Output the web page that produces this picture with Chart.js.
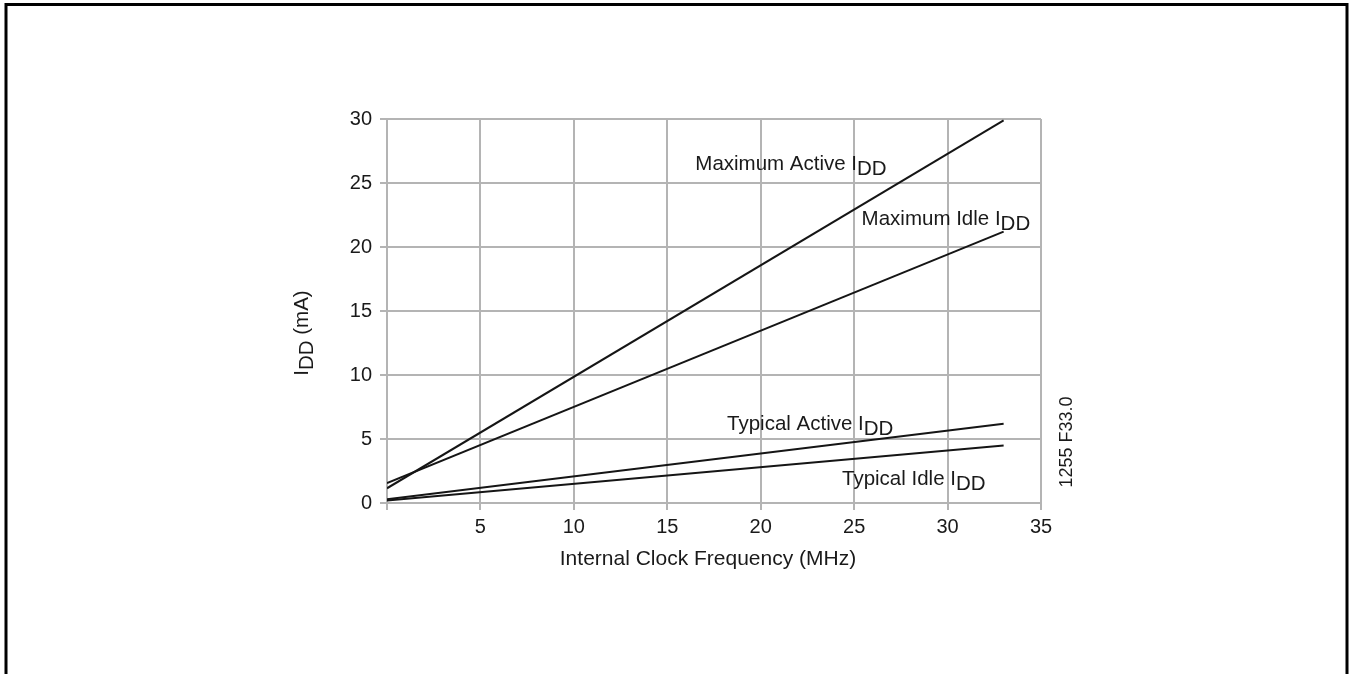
<!DOCTYPE html>
<html>
<head>
<meta charset="utf-8">
<script src="https://cdn.jsdelivr.net/npm/chart.js@4/dist/chart.umd.min.js"></script>
<style>
  html, body { margin: 0; padding: 0; background: #fff; }
  #wrap { width: 1350px; height: 674px; }
</style>
</head>
<body>
<div id="wrap"><canvas id="myChart" width="1350" height="674"></canvas></div>
<script>
"use strict";

// DATA
const freqs = [0, 33];
const maxActive = [1.15, 29.9];
const maxIdle = [1.55, 21.2];
const typActive = [0.3, 6.2];
const typIdle = [0.2, 4.5];
const xTicks = [0, 5, 10, 15, 20, 25, 30, 35];
const yTicks = [0, 5, 10, 15, 20, 25, 30];

// curve labels: [main text, subscript, x (MHz), y (mA) of baseline-left]
const curveLabels = [
  ["Maximum Active I", "DD", 16.5, 26.0],
  ["Maximum Idle I", "DD", 25.4, 21.7],
  ["Typical Active I", "DD", 18.2, 5.7],
  ["Typical Idle I", "DD", 24.35, 1.4],
];

const FONT = "'Liberation Sans', Arial, Helvetica, sans-serif";
const toPts = (ys) => freqs.map((f, i) => ({ x: f, y: ys[i] }));

const lineSet = (ys) => ({
  data: toPts(ys),
  showLine: true,
  borderColor: "#151515",
  borderWidth: 2,
  pointRadius: 0,
  fill: false,
});

// draws frame, titles and curve labels
const decor = {
  id: "decor",
  afterDraw(chart) {
    const c = chart.ctx;
    const xs = chart.scales.x;
    const ys = chart.scales.y;
    c.save();

    // outer frame (no bottom edge)
    c.strokeStyle = "#000";
    c.lineWidth = 3;
    c.beginPath();
    c.moveTo(6, 674);
    c.lineTo(6, 4.5);
    c.lineTo(1347, 4.5);
    c.lineTo(1347, 674);
    c.stroke();

    c.fillStyle = "#1a1a1a";
    c.textBaseline = "alphabetic";

    const subText = (txt, sub, x, y) => {
      c.font = "20.5px " + FONT;
      c.textAlign = "left";
      c.fillText(txt, x, y);
      const w = c.measureText(txt).width;
      c.fillText(sub, x + w, y + 5);
    };

    curveLabels.forEach(([t, s, fx, fy]) => {
      subText(t, s, xs.getPixelForValue(fx), ys.getPixelForValue(fy));
    });

    // x title
    c.font = "21px " + FONT;
    c.textAlign = "center";
    c.fillText("Internal Clock Frequency (MHz)", 708, 565);

    // y title
    c.save();
    c.translate(308, 333);
    c.rotate(-Math.PI / 2);
    c.font = "20.5px " + FONT;
    const w1 = c.measureText("I").width;
    const w2 = c.measureText("DD").width;
    const w3 = c.measureText(" (mA)").width;
    let x0 = -(w1 + w2 + w3) / 2;
    c.textAlign = "left";
    c.fillText("I", x0, 0);
    c.fillText("DD", x0 + w1, 5);
    c.fillText(" (mA)", x0 + w1 + w2, 0);
    c.restore();

    // figure id
    c.save();
    c.translate(1072, 442);
    c.rotate(-Math.PI / 2);
    c.font = "18px " + FONT;
    c.textAlign = "center";
    c.fillText("1255 F33.0", 0, 0);
    c.restore();

    c.restore();
  },
};

const gridOpts = {
  color: "#b4b4b4",
  lineWidth: 2,
  tickLength: 7,
  drawTicks: true,
};

new Chart(document.getElementById("myChart"), {
  type: "scatter",
  data: {
    datasets: [lineSet(maxActive), lineSet(maxIdle), lineSet(typActive), lineSet(typIdle)],
  },
  options: {
    responsive: false,
    animation: false,
    layout: { padding: { left: 347, right: 309, top: 119, bottom: 131 } },
    plugins: { legend: { display: false }, tooltip: { enabled: false } },
    scales: {
      x: {
        type: "linear",
        min: 0,
        max: 35,
        afterBuildTicks: (s) => { s.ticks = xTicks.map((v) => ({ value: v })); },
        afterFit: (s) => { s.height = 40; },
        grid: gridOpts,
        border: { display: false },
        ticks: {
          color: "#1a1a1a",
          font: { family: FONT, size: 20 },
          padding: 5,
          maxRotation: 0,
          callback: (v) => (v === 0 ? "" : String(v)),
        },
      },
      y: {
        type: "linear",
        min: 0,
        max: 30,
        afterBuildTicks: (s) => { s.ticks = yTicks.map((v) => ({ value: v })); },
        afterFit: (s) => { s.width = 40; },
        grid: gridOpts,
        border: { display: false },
        ticks: {
          color: "#1a1a1a",
          font: { family: FONT, size: 20 },
          padding: 8,
          callback: (v) => String(v),
        },
      },
    },
  },
  plugins: [decor],
});
</script>
</body>
</html>
